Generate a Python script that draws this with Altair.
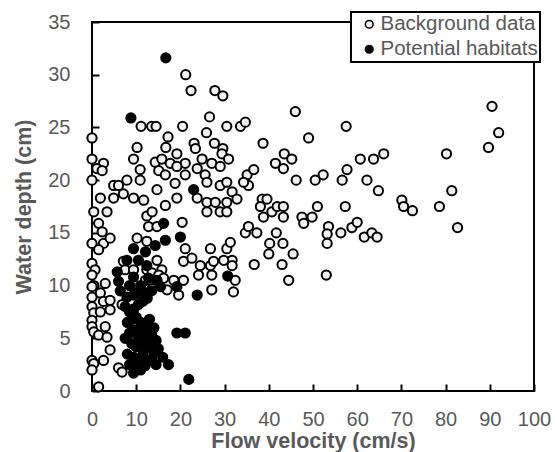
import altair as alt
import pandas as pd

# ---- data ----
bg_velocity = [
    21.2, 22.4, 27.8, 29.6, 11.1, 13.5, 14.5, 20.5, 26.6, 30.5, 0.0, 17.2, 25.9, 10.2, 23.1, 27.7, 16.7, 23.4, 29.6,
    0.0, 2.6, 9.4, 14.3, 15.8, 19.2, 17.7, 21.1, 24.9, 27.1, 29.4, 30.9, 1.1, 2.3, 10.9, 15.1, 19.2, 23.8, 25.6, 29.0,
    0.0, 4.9, 6.0, 7.9, 10.9, 16.6, 18.8, 21.1, 26.0, 29.0, 30.5, 1.9, 4.9, 7.1, 9.4, 14.7, 19.2, 23.8,
    11.7, 16.6, 0.4, 3.4, 12.4, 13.6, 26.0, 27.9, 26.0, 29.0, 30.5, 20.4, 12.8, 14.7, 1.5, 2.3,
    0.0, 2.6, 4.1, 10.2, 12.4, 1.5, 21.1, 20.7, 22.6, 26.8, 30.5, 7.1, 14.7, 0.0, 24.5, 26.8, 27.5,
    0.7, 7.5, 9.4, 12.4, 13.6, 15.8, 24.1, 27.1, 15.1, 0.0, 0.4, 3.0, 12.1, 13.2, 16.2, 18.5, 20.7,
    13.6, 17.0, 19.6, 27.1, 0.0, 0.0, 1.9, 2.6, 4.1, 6.8, 0.0, 0.4, 1.9, 0.0, 4.1,
    0.0, 0.4, 1.5, 3.0, 3.4, 4.1, 0.0, 0.4, 0.0, 2.6, 6.0, 6.8, 1.5,
    46.0, 33.6, 34.7, 57.5, 49.0, 38.7, 43.5, 45.2, 41.5, 43.3, 46.2, 50.5, 52.3, 56.6, 57.7, 60.7, 63.7, 66.0,
    62.2, 64.8, 35.1, 36.6, 35.4, 34.3, 38.5, 39.6, 31.7, 32.8,
    30.5, 38.1, 40.7, 38.8, 41.9, 43.3, 43.3, 47.5, 49.8, 47.9, 51.0, 57.3, 53.5, 53.2, 53.2, 56.3, 58.8, 60.0,
    61.6, 63.3, 64.5, 34.7, 37.3, 35.4, 41.7, 40.2, 43.2, 40.0, 45.5, 43.0, 36.7, 44.5, 53.0,
    31.3, 31.7, 31.7, 29.8, 32.4, 32.0,
    90.5, 92.0, 89.7, 80.2, 81.4, 78.6, 82.7, 70.1, 70.5, 72.5,
]
bg_depth = [
    30.0, 28.5, 28.5, 28.0, 25.1, 25.1, 25.1, 25.1, 26.0, 25.1, 24.0, 24.1, 24.5, 23.1, 23.5, 23.5, 23.1, 23.0, 23.0,
    22.0, 21.6, 22.0, 21.7, 22.0, 22.5, 21.6, 21.6, 22.0, 21.6, 22.5, 22.0, 21.1, 20.9, 21.0, 20.9, 21.3, 21.1, 20.5, 21.3,
    20.0, 19.5, 19.5, 20.0, 20.0, 20.5, 19.7, 20.5, 19.8, 19.5, 19.8, 18.3, 18.3, 18.7, 18.3, 19.1, 18.3, 18.3,
    18.1, 17.6, 17.0, 17.0, 16.6, 17.0, 17.9, 17.9, 17.0, 17.0, 17.9, 16.0, 15.6, 15.6, 15.9, 15.1,
    14.0, 14.0, 14.5, 14.5, 14.2, 13.4, 13.5, 12.3, 12.6, 13.5, 13.5, 12.3, 12.4, 12.1, 11.9, 11.9, 12.3,
    11.5, 11.5, 11.5, 11.5, 11.2, 11.5, 11.0, 11.0, 11.0, 11.0, 10.0, 10.2, 10.5, 10.5, 10.7, 10.5, 10.5,
    9.7, 9.6, 9.1, 9.6, 9.9, 8.9, 9.3, 8.5, 8.6, 8.2, 8.0, 7.4, 7.5, 6.7, 7.7,
    6.1, 5.6, 5.3, 6.1, 5.1, 3.9, 2.9, 2.6, 2.0, 2.9, 2.2, 1.8, 0.4,
    26.5, 25.1, 25.5, 25.1, 24.0, 23.5, 22.5, 22.0, 21.6, 21.1, 20.0, 20.0, 20.5, 20.0, 21.0, 22.0, 22.0, 22.5,
    20.0, 19.0, 20.5, 21.0, 19.5, 19.8, 18.2, 18.2, 18.9, 18.2,
    17.0, 17.5, 17.0, 16.5, 17.5, 17.5, 16.5, 16.5, 16.5, 15.9, 17.5, 17.5, 15.6, 14.9, 14.0, 15.0, 15.5, 16.0,
    14.6, 15.0, 14.6, 15.0, 15.0, 15.6, 15.0, 14.0, 14.0, 13.0, 13.0, 12.0, 12.0, 10.5, 11.0,
    14.1, 12.4, 11.9, 12.4, 10.5, 9.4,
    27.0, 24.5, 23.1, 22.5, 19.0, 17.5, 15.5, 18.1, 17.5, 17.1,
]
hab_velocity = [
    16.7, 8.8, 23.0, 16.2, 20.0, 16.6, 9.4, 12.1, 14.3, 7.9, 10.5, 12.4, 5.7, 30.7, 6.0, 9.4, 12.8, 14.7,
    15.5, 19.2, 23.8, 6.4, 7.9, 9.4, 19.2, 21.1, 17.3, 21.9, 9.4,
    7.5, 8.5, 9.5, 10.5, 11.5, 12.5, 8.0, 9.0, 10.0, 11.0, 12.0, 13.0, 14.0, 8.5, 9.5, 10.5, 11.5, 12.5,
    13.5, 14.5, 9.0, 10.0, 11.0, 12.0, 13.0, 14.0, 15.0, 8.0, 9.5, 10.5, 11.5, 12.5, 13.5, 16.0, 8.5,
    10.0, 11.0, 12.0, 14.5, 7.5, 10.0, 11.0, 13.5, 8.5, 12.0,
]
hab_depth = [
    31.6, 25.9, 19.1, 15.9, 14.6, 14.3, 13.5, 13.2, 13.8, 12.4, 12.4, 11.9, 11.3, 10.9, 10.4, 10.8, 10.7, 10.5,
    9.9, 9.9, 9.1, 9.5, 8.9, 9.1, 5.5, 5.5, 2.5, 1.1, 1.7,
    8.0, 7.5, 7.8, 8.2, 8.5, 8.8, 6.5, 6.8, 7.0, 6.5, 6.2, 6.8, 6.0, 5.5, 5.8, 5.2, 5.6, 5.0,
    5.4, 4.8, 4.5, 4.2, 4.6, 4.0, 4.3, 3.6, 4.0, 3.5, 3.2, 3.0, 3.4, 2.8, 3.0, 3.2, 2.5,
    2.2, 2.0, 2.4, 2.5, 5.0, 9.3, 10.0, 9.5, 10.0, 9.3,
]
series_names = ["Background data", "Potential habitats"]
x_ticks = [0, 10, 20, 30, 40, 50, 60, 70, 80, 90, 100]
y_ticks = [0, 5, 10, 15, 20, 25, 30, 35]

# ---- layout / style ----
W, H = 442, 369
FONT = "Liberation Sans"
GREY = "#595959"
TICK_LEN = 7

df = pd.DataFrame({
    "v": bg_velocity + hab_velocity,
    "d": bg_depth + hab_depth,
    "series": [series_names[0]] * len(bg_velocity) + [series_names[1]] * len(hab_velocity),
})

xscale = alt.Scale(domain=[0, 100], nice=False, zero=False)
yscale = alt.Scale(domain=[0, 35], nice=False, zero=False)

# axes are shifted inward by the tick length so that their ticks point into the plot;
# the plot frame itself comes from the view stroke.
points = alt.Chart(df).mark_circle(size=85, stroke="black", strokeWidth=2, opacity=1).encode(
    x=alt.X("v:Q", scale=xscale, axis=alt.Axis(
        values=x_ticks, title="Flow velocity (cm/s)", offset=-TICK_LEN,
        labelPadding=18, labelFlush=False, labelOverlap=False,
        titleY=56 + TICK_LEN, titleBaseline="alphabetic")),
    y=alt.Y("d:Q", scale=yscale, axis=alt.Axis(
        values=y_ticks, title="Water depth (cm)", offset=-TICK_LEN,
        labelPadding=22, labelFlush=False, labelOverlap=False,
        titleX=-62 - TICK_LEN, titleBaseline="alphabetic")),
    fill=alt.Fill("series:N",
                  scale=alt.Scale(domain=series_names, range=["#f2f2f2", "#000000"]),
                  legend=alt.Legend(title=None, orient="none", legendX=259, legendY=-10)),
)

chart = points.properties(
    width=W, height=H,
    autosize=alt.AutoSizeParams(type="none"),
    padding={"left": 92, "top": 22, "right": 21, "bottom": 61},
).configure_view(
    stroke="black", strokeWidth=2,
).configure_axis(
    grid=False, domain=False,
    ticks=True, tickSize=TICK_LEN, tickWidth=2, tickColor="black", tickOpacity=1,
    labelFont=FONT, labelFontSize=20, labelColor=GREY,
    titleFont=FONT, titleFontSize=21.5, titleFontWeight="bold", titleColor=GREY,
).configure_legend(
    fillColor="white", strokeColor="black", strokeWidth=2,
    padding=2, symbolType="circle", symbolSize=60,
    symbolStrokeColor="black", symbolStrokeWidth=1.5,
    symbolOffset=6, labelOffset=1, rowPadding=4,
    labelFont=FONT, labelFontSize=20.5, labelColor=GREY, labelLimit=300,
)

chart.save("out.html", embed_options={"renderer": "svg", "actions": False})
